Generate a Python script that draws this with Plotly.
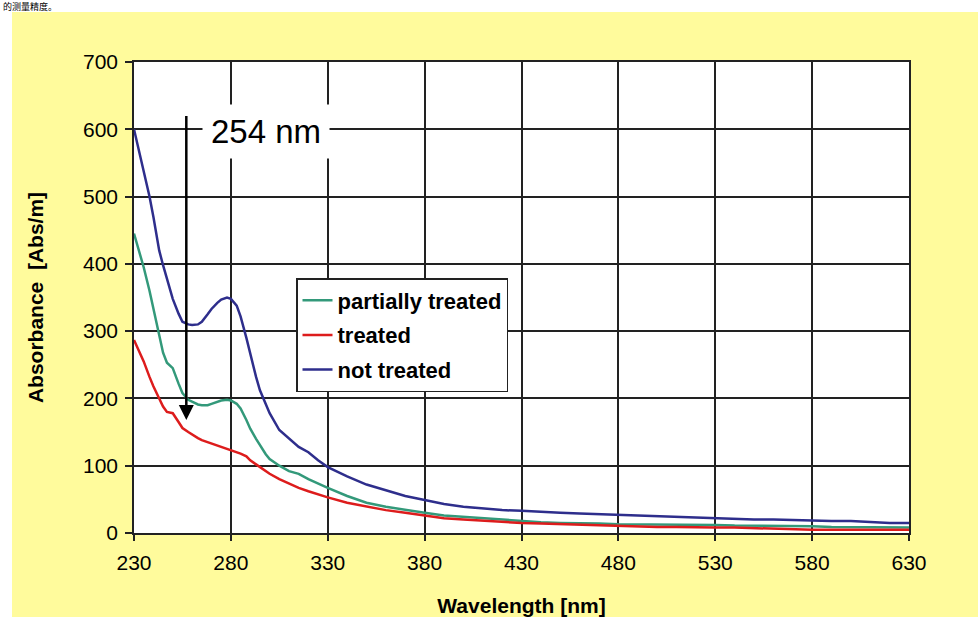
import plotly.graph_objects as go

wavelength = [230,232,235,238,240,243,245,247,250,253,255,258,260,263,265,268,270,273,275,278,
              280,283,285,288,290,293,295,298,300,305,310,315,320,325,330,340,350,360,370,380,
              390,400,410,420,430,440,450,460,470,480,490,500,510,520,530,540,550,560,570,580,
              590,600,610,620,630]

not_treated = [600,575,540,500,470,420,398,378,348,326,314,310,309,310,314,325,333,342,347,350,
               348,338,322,290,265,232,212,190,178,153,140,128,120,108,98,84,72,63,55,49,
               43,39,36,34,33,31,30,29,28,27,25,25,24,23,22,21,20,20,19,18,
               18,18,16,15,15]

partially_treated = [445,425,395,360,335,295,268,253,245,222,208,198,195,191,190,190,192,195,197,198,
                     197,192,185,168,155,140,130,117,110,100,92,88,80,73,67,55,45,39,34,30,
                     26,24,21,19,17,16,15,15,14,13,13,13,12,12,12,11,11,10,10,10,
                     9,9,9,8,8]

treated = [287,275,255,232,218,200,188,180,178,165,156,150,146,141,138,135,133,130,128,126,
           124,121,118,114,108,102,98,92,88,80,73,67,62,57,53,45,39,34,30,26,
           22,20,18,16,15,14,13,12,11,10,10,9,9,8,8,8,7,6,6,5,
           5,5,5,5,5]

x_ticks = [230,280,330,380,430,480,530,580,630]
y_ticks = [0,100,200,300,400,500,600,700]

series_names = ["partially treated", "treated", "not treated"]
series_colors = ["#33997A", "#DD1C1C", "#2E2E8C"]
series_values = [partially_treated, treated, not_treated]

W, H = 978, 617
ML, MR, MT, MB = 134, 69, 62, 84
PW, PH = W - ML - MR, H - MT - MB

def px_x(p):
    return (p - ML) / PW

def px_y(p):
    return (H - MB - p) / PH

fig = go.Figure()
for i, (name, color, vals) in enumerate(zip(series_names, series_colors, series_values)):
    fig.add_trace(go.Scatter(x=wavelength, y=vals, mode="lines", name=name, legendgroup=f"g{i}",
                             line=dict(color=color, width=2.5, shape="linear")))

fig.add_annotation(x=257, y=168, ax=257, ay=622, xref="x", yref="y", axref="x", ayref="y",
                   text="", showarrow=True, arrowhead=2, arrowsize=1.2, arrowwidth=2.5,
                   arrowcolor="black")
fig.add_annotation(x=298, y=596, xref="x", yref="y", text="254 nm", showarrow=False,
                   font=dict(family="Liberation Sans, Arial", size=33, color="black"),
                   bgcolor="white", borderpad=8)

# top strip text fragment (cut off in the reference) kept small inside the strip
fig.add_annotation(x=px_x(2), y=px_y(-1), xref="paper", yref="paper", xanchor="left",
                   yanchor="top", text="的测量精度。", showarrow=False,
                   font=dict(family="Noto Sans CJK SC", size=9, color="black"), borderpad=0)

fig.add_shape(type="rect", xref="paper", yref="paper", x0=px_x(-5), x1=px_x(W + 5),
              y0=px_y(12), y1=px_y(-5), fillcolor="white", line=dict(width=0), layer="below")
fig.add_shape(type="rect", xref="paper", yref="paper", x0=px_x(-5), x1=px_x(12),
              y0=px_y(H + 5), y1=px_y(-5), fillcolor="white", line=dict(width=0), layer="below")

axis_font = dict(family="Liberation Sans, Arial", size=21, color="black")
title_font = dict(family="Liberation Sans, Arial", size=21, color="black")

fig.update_xaxes(range=[230, 630], tickvals=x_ticks, ticktext=[str(v) for v in x_ticks],
                 showgrid=True, gridcolor="#222222", gridwidth=1.5, zeroline=False,
                 showline=True, linecolor="#222222", linewidth=1.5, mirror=True,
                 ticks="outside", ticklen=6, tickwidth=1.5, tickcolor="#222222",
                 tickfont=axis_font, ticklabelstandoff=4, automargin=False,
                 title=dict(text="<b>Wavelength [nm]</b>", font=title_font, standoff=25))
fig.update_yaxes(range=[0, 700], tickvals=y_ticks, ticktext=[str(v) for v in y_ticks],
                 showgrid=True, gridcolor="#222222", gridwidth=1.5, zeroline=False,
                 showline=True, linecolor="#222222", linewidth=1.5, mirror=True,
                 ticks="outside", ticklen=7, tickwidth=1.5, tickcolor="#222222",
                 tickfont=axis_font, ticklabelstandoff=3, automargin=False,
                 title=dict(text="<b>Absorbance  [Abs/m]</b>", font=title_font, standoff=34))

fig.update_layout(
    width=W, height=H, autosize=False,
    margin=dict(l=ML, r=MR, t=MT, b=MB, pad=0),
    paper_bgcolor="#FFFB9C", plot_bgcolor="white",
    showlegend=True,
    legend=dict(x=px_x(296), y=px_y(278), xanchor="left", yanchor="top",
                bgcolor="white", bordercolor="#222222", borderwidth=1.5,
                font=dict(family="Liberation Sans, Arial", size=22, color="black", weight="bold"),
                itemwidth=30, tracegroupgap=3),
    font=dict(family="Liberation Sans, Arial"),
)

fig.write_html("out.html", config={"displayModeBar": False},
               post_script="document.body.style.margin='0';")
